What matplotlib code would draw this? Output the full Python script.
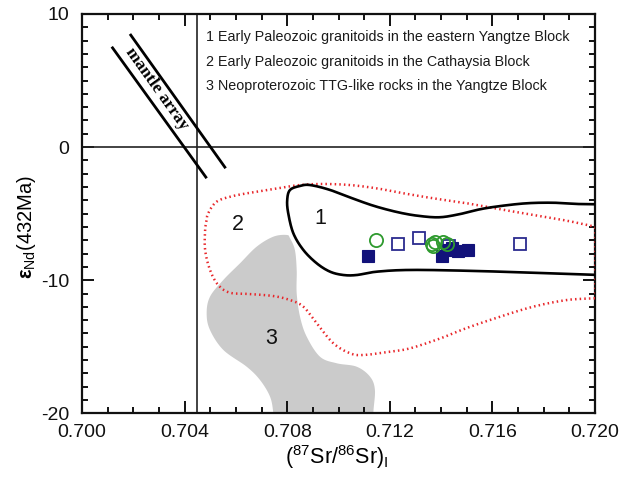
import numpy as np
import matplotlib
matplotlib.use("Agg")
import matplotlib.pyplot as plt
from matplotlib.ticker import MultipleLocator

plt.rcParams['font.family'] = ['Liberation Sans', 'DejaVu Sans']
plt.rcParams['mathtext.fontset'] = 'custom'
plt.rcParams['mathtext.rm'] = 'Liberation Sans'
plt.rcParams['mathtext.bf'] = 'Liberation Sans:bold'
plt.rcParams['mathtext.it'] = 'Liberation Sans:italic'
plt.rcParams['axes.unicode_minus'] = False

# ---------------- data ----------------
# samples: open green circles
circ_x = [0.71146, 0.71363, 0.71376, 0.71409, 0.71422, 0.71370]
circ_y = [-6.98, -7.28, -7.11, -7.11, -7.28, -7.43]
# open navy squares
osq_x = [0.71233, 0.71315, 0.71708, 0.71430]
osq_y = [-7.28, -6.85, -7.28, -7.45]
# filled navy squares
fsq_x = [0.71114, 0.71402, 0.71423, 0.71444, 0.71467, 0.71506]
fsq_y = [-8.16, -8.18, -7.73, -7.60, -7.78, -7.73]

# field 1 outline (black)
f1_x = [0.72059, 0.71942, 0.71837, 0.71734, 0.71630, 0.71552, 0.71474, 0.71396,
        0.71318, 0.71240, 0.71149, 0.71071, 0.70967, 0.70889, 0.70850, 0.70811,
        0.70800, 0.70804, 0.70824, 0.70863, 0.70915, 0.70967, 0.71019, 0.71071,
        0.71149, 0.71279, 0.71500, 0.71759, 0.72000, 0.72059]
f1_y = [-4.31, -4.28, -4.18, -4.22, -4.43, -4.67, -5.03, -5.27,
        -5.18, -4.93, -4.48, -3.97, -3.22, -2.85, -2.92, -3.22,
        -3.97, -4.97, -6.48, -7.73, -8.73, -9.36, -9.61, -9.61,
        -9.36, -9.23, -9.29, -9.44, -9.61, -9.63]

# field 2 outline (red dotted)
f2_x = [0.72000, 0.71890, 0.71759, 0.71630, 0.71500, 0.71396, 0.71279, 0.71201,
        0.71097, 0.71045, 0.70980, 0.70915, 0.70863, 0.70811, 0.70746, 0.70655,
        0.70577, 0.70531, 0.70499, 0.70480, 0.70480, 0.70486, 0.70492, 0.70525,
        0.70590, 0.70681, 0.70759, 0.70850, 0.70941, 0.71045, 0.71149, 0.71253,
        0.71370, 0.71500, 0.71630, 0.71759, 0.71890, 0.72000]
f2_y = [-11.36, -11.49, -11.99, -12.74, -13.59, -14.38, -15.12, -15.37,
        -15.62, -15.49, -14.74, -13.24, -11.99, -11.49, -11.19, -11.04,
        -10.94, -10.36, -9.23, -7.73, -6.23, -5.48, -4.97, -4.10,
        -3.67, -3.35, -3.10, -2.85, -2.77, -2.85, -3.10, -3.47,
        -3.85, -4.22, -4.67, -5.10, -5.53, -5.98]

# field 3 outline (grey fill)
f3_x = [0.70798, 0.70746, 0.70681, 0.70616, 0.70551, 0.70499, 0.70486, 0.70499,
        0.70551, 0.70642, 0.70694, 0.70733, 0.70746, 0.70752, 0.71140, 0.71136,
        0.71142, 0.71123, 0.71071, 0.70993, 0.70928, 0.70876, 0.70850, 0.70837,
        0.70837, 0.70830, 0.70811]
f3_y = [-6.60, -6.73, -7.48, -8.73, -9.98, -11.24, -12.49, -13.74,
        -15.24, -16.50, -17.50, -18.75, -20.0, -21.5, -21.5, -20.0,
        -18.25, -17.25, -16.50, -16.24, -15.75, -14.24, -12.74, -10.98,
        -9.23, -7.73, -6.85]

# mantle array lines
ma1_x = [0.70116, 0.70486]
ma1_y = [7.54, -2.34]
ma2_x = [0.70187, 0.70560]
ma2_y = [8.50, -1.59]

bulk_earth_sr = 0.7045
chur_eps = 0.0

legend_lines = ["1 Early Paleozoic granitoids in the eastern Yangtze Block",
                "2 Early Paleozoic granitoids in the Cathaysia Block",
                "3 Neoproterozoic TTG-like rocks in the Yangtze Block"]
field_labels = ["1", "2", "3"]
field_label_x = [0.70928, 0.70608, 0.70737]
field_label_y = [-5.35, -5.78, -14.37]

xticks = [0.700, 0.704, 0.708, 0.712, 0.716, 0.720]
yticks = [-20, -10, 0, 10]


def catmull_rom(xs, ys, closed=False, n=20):
    P = np.column_stack([xs, ys]).astype(float)
    if closed:
        P = np.vstack([P[-1], P, P[0], P[1]])
    else:
        P = np.vstack([P[0], P, P[-1]])
    t = np.linspace(0, 1, n, endpoint=False)[:, None]
    out = []
    for i in range(1, len(P) - 2):
        p0, p1, p2, p3 = P[i - 1], P[i], P[i + 1], P[i + 2]
        seg = 0.5 * ((2 * p1) + (-p0 + p2) * t + (2 * p0 - 5 * p1 + 4 * p2 - p3) * t ** 2
                     + (-p0 + 3 * p1 - 3 * p2 + p3) * t ** 3)
        out.append(seg)
    out.append(P[1][None] if closed else P[-2][None])
    S = np.vstack(out)
    return S[:, 0], S[:, 1]


fig = plt.figure(figsize=(6.35, 4.83), dpi=100)
ax = fig.add_axes([82 / 635, 1 - 413.3 / 483, 513 / 635, 399.3 / 483])

# grey field 3
gx, gy = catmull_rom(f3_x, f3_y, closed=True)
ax.fill(gx, gy, color='#cbcbcb', lw=0, zorder=1)

# reference lines
ax.axvline(bulk_earth_sr, color='#222222', lw=1.2, zorder=2)
ax.axhline(chur_eps, color='#222222', lw=1.2, zorder=2)

# field 2 red dotted
rx, ry = catmull_rom(f2_x, f2_y)
ax.plot(rx, ry, color='#e8262a', lw=1.8, linestyle=(0, (0.6, 1.25)), zorder=3)
ax.plot([f2_x[-1], f2_x[0]], [f2_y[-1], f2_y[0]], color='#e8262a', lw=1.8,
        linestyle=(0, (0.6, 1.25)), zorder=3)

# field 1 black
bx, by = catmull_rom(f1_x, f1_y)
ax.plot(bx, by, color='black', lw=1.9, zorder=4)

# mantle array
ax.plot(ma1_x, ma1_y, color='black', lw=2.0, solid_capstyle='butt', zorder=4)
ax.plot(ma2_x, ma2_y, color='black', lw=2.0, solid_capstyle='butt', zorder=4)
ax.text(0.70296, 4.45, 'mantle array', rotation=-54.4, rotation_mode='anchor',
        ha='center', va='center_baseline', fontsize=12.5, fontweight='bold',
        family=['Liberation Serif', 'DejaVu Serif'], zorder=5)

# samples
ax.plot(osq_x, osq_y, linestyle='none', marker='s', ms=9, mfc='white',
        mec='#2b2b8f', mew=1.3, zorder=6)
ax.plot(circ_x, circ_y, linestyle='none', marker='o', ms=9.5, mfc='none',
        mec='#2e9a2e', mew=1.3, zorder=7)
ax.plot(fsq_x, fsq_y, linestyle='none', marker='s', ms=9, mfc='#12127a',
        mec='#12127a', mew=0.8, zorder=6)

# field labels
for s, x, y in zip(field_labels, field_label_x, field_label_y):
    ax.text(x, y, s, fontsize=15.5, ha='center', va='center', color='#111111', zorder=8)

# legend text
for i, s in enumerate(legend_lines):
    ax.text(0.2425, 0.942 - i * 0.0615, s, transform=ax.transAxes, fontsize=10.3,
            ha='left', va='center', color='#1a1a1a', zorder=8)

ax.set_xlim(0.700, 0.720)
ax.set_ylim(-20, 10)
ax.set_xticks(xticks)
ax.set_xticklabels(['%.3f' % v for v in xticks])
ax.set_yticks(yticks)
ax.xaxis.set_minor_locator(MultipleLocator(0.001))
ax.yaxis.set_minor_locator(MultipleLocator(1))
ax.tick_params(which='both', direction='in', top=True, right=True, width=1.4,
               labelsize=14, colors='#111111')
ax.tick_params(which='major', length=8.5, pad=8)
ax.tick_params(which='minor', length=4.5)
ax.tick_params(axis='y', which='major', pad=9)
for sp in ax.spines.values():
    sp.set_linewidth(1.6)
    sp.set_color('#111111')

fig.text(26 / 635, 1 - 227 / 483, r'$\mathbf{ε}_{\mathrm{Nd}}$(432Ma)', rotation=90,
         ha='center', va='center', fontsize=14.5)
fig.text(337 / 635, 1 - 457 / 483, r'($^{87}$Sr/$^{86}$Sr)$_{\mathrm{I}}$',
         ha='center', va='center', fontsize=15.5)

fig.savefig('out.png', dpi=100)
